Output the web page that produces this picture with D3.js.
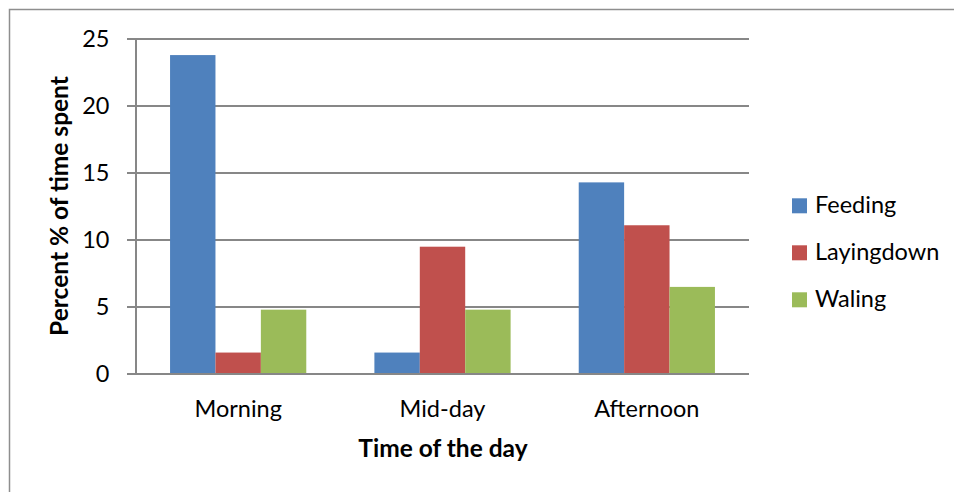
<!DOCTYPE html>
<html>
<head>
<meta charset="utf-8">
<script src="https://cdn.jsdelivr.net/npm/d3@7"></script>
<style>
  html, body { margin: 0; padding: 0; background: #fff; }
  svg { display: block; }
  text { font-family: Lato, "Open Sans", sans-serif; fill: #000; }
</style>
</head>
<body>
<svg id="chart" width="954" height="492"></svg>
<script>
// Share of time spent on each behaviour, by time of day
const categories = ["Morning", "Mid-day", "Afternoon"];
const seriesNames = ["Feeding", "Layingdown", "Waling"];
const feeding    = [23.8, 1.6, 14.3];
const layingdown = [1.6, 9.5, 11.1];
const waling     = [4.8, 4.8, 6.5];
const yTicks = [0, 5, 10, 15, 20, 25];
const colors = ["#4F81BD", "#C0504D", "#9BBB59"];

const seriesValues = [feeding, layingdown, waling];

const svg = d3.select("#chart");

// outer frame
svg.append("rect")
  .attr("x", 9.5).attr("y", 9.5)
  .attr("width", 960).attr("height", 500)
  .attr("fill", "none").attr("stroke", "#8e8e8e").attr("stroke-width", 1.5);

const plot = { left: 136, right: 749, top: 39, bottom: 374 };

const y = d3.scaleLinear().domain([0, 25]).range([plot.bottom, plot.top]);
const x0 = d3.scaleBand().domain(categories).range([plot.left, plot.right]).padding(0);
const bw = x0.bandwidth();
const x1 = d3.scaleBand().domain(seriesNames)
  .range([bw * 0.75 / 4.5, bw * 3.75 / 4.5]).padding(0);

// gridlines
svg.append("g")
  .selectAll("line")
  .data(yTicks)
  .join("line")
  .attr("x1", plot.left - 9).attr("x2", plot.right)
  .attr("y1", d => y(d)).attr("y2", d => y(d))
  .attr("stroke", "#878787").attr("stroke-width", 2);

// y axis line
svg.append("line")
  .attr("x1", plot.left).attr("x2", plot.left)
  .attr("y1", plot.top).attr("y2", plot.bottom)
  .attr("stroke", "#878787").attr("stroke-width", 2);

// bars
const groups = svg.append("g")
  .selectAll("g")
  .data(categories)
  .join("g")
  .attr("transform", d => `translate(${x0(d)},0)`);

groups.selectAll("rect")
  .data((c, i) => seriesNames.map((s, j) => ({ s, j, v: seriesValues[j][i] })))
  .join("rect")
  .attr("x", d => x1(d.s))
  .attr("width", x1.bandwidth())
  .attr("y", d => y(d.v))
  .attr("height", d => y(0) - y(d.v))
  .attr("fill", d => colors[d.j]);

// x axis baseline on top of bars
svg.append("line")
  .attr("x1", plot.left - 9).attr("x2", plot.right)
  .attr("y1", y(0)).attr("y2", y(0))
  .attr("stroke", "#878787").attr("stroke-width", 2);

// y tick labels
svg.append("g")
  .selectAll("text")
  .data(yTicks)
  .join("text")
  .attr("x", 109.5)
  .attr("y", d => y(d))
  .attr("dy", "0.36em")
  .attr("text-anchor", "end")
  .attr("font-size", 23.5)
  .text(d => d);

// category labels
svg.append("g")
  .selectAll("text")
  .data(categories)
  .join("text")
  .attr("x", d => x0(d) + bw / 2)
  .attr("y", 417)
  .attr("text-anchor", "middle")
  .attr("font-size", 23.5)
  .text(d => d);

// axis titles
svg.append("text")
  .attr("x", 443).attr("y", 457)
  .attr("text-anchor", "middle")
  .attr("font-size", 24.5).attr("font-weight", "bold")
  .text("Time of the day");

svg.append("text")
  .attr("transform", "translate(68,206) rotate(-90)")
  .attr("text-anchor", "middle")
  .attr("font-size", 24.5).attr("font-weight", "bold")
  .text("Percent % of time spent");

// legend
const legend = svg.append("g")
  .selectAll("g")
  .data(seriesNames)
  .join("g")
  .attr("transform", (d, i) => `translate(792,${205.8 + i * 47})`);

legend.append("rect")
  .attr("x", 0).attr("y", -7.5)
  .attr("width", 15).attr("height", 15)
  .attr("fill", (d, i) => colors[i]);

legend.append("text")
  .attr("x", 23).attr("y", 7)
  .attr("font-size", 23.5)
  .text(d => d);
</script>
</body>
</html>
